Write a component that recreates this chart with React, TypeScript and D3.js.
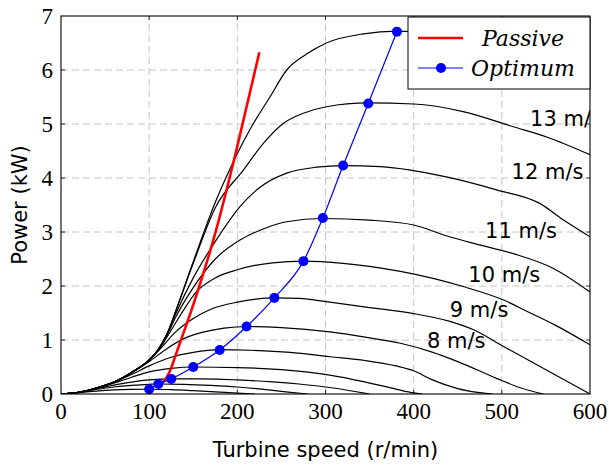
import React from 'react';
import * as d3 from 'd3';

// wind speed curves: [turbine speed r/min, power kW]
const curve3 = [[0, 0], [20, 0.025], [40, 0.055], [60, 0.075], [80, 0.085], [100, 0.088], [125, 0.08], [150, 0.062], [175, 0.04], [200, 0.015], [220, 0]];
const curve4 = [[0, 0], [20, 0.03], [40, 0.085], [60, 0.13], [80, 0.16], [100, 0.18], [110, 0.185], [140, 0.18], [170, 0.16], [200, 0.13], [230, 0.085], [255, 0.04], [280, 0]];
const curve5 = [[0, 0], [20, 0.03], [40, 0.1], [60, 0.165], [80, 0.22], [100, 0.26], [125, 0.28], [160, 0.28], [200, 0.26], [240, 0.225], [270, 0.185], [305, 0.12], [330, 0.055], [350, 0]];
const curve6 = [[0, 0], [20, 0.03], [40, 0.105], [60, 0.2], [80, 0.31], [100, 0.41], [125, 0.475], [150, 0.5], [200, 0.49], [250, 0.45], [305, 0.35], [343, 0.23], [380, 0.09], [400, 0.02], [410, 0]];
const curve7 = [[0, 0], [20, 0.03], [40, 0.11], [60, 0.22], [80, 0.36], [100, 0.52], [125, 0.68], [150, 0.77], [180, 0.82], [214, 0.81], [260, 0.77], [305, 0.69], [345, 0.62], [380, 0.52], [400, 0.43], [420, 0.27], [450, 0.1], [475, 0.025], [490, 0]];
const curve8 = [[0, 0], [20, 0.03], [40, 0.11], [60, 0.22], [80, 0.39], [100, 0.6], [120, 0.84], [140, 1.03], [160, 1.14], [185, 1.22], [211, 1.25], [250, 1.23], [305, 1.15], [350, 1.04], [385, 0.94], [420, 0.78], [450, 0.6], [494, 0.29], [520, 0.12], [547, 0]];
const curve9 = [[0, 0], [20, 0.03], [40, 0.11], [60, 0.22], [80, 0.4], [100, 0.62], [115, 0.88], [130, 1.15], [150, 1.4], [170, 1.57], [200, 1.7], [242, 1.78], [270, 1.77], [305, 1.7], [350, 1.6], [400, 1.49], [440, 1.35], [468, 1.19], [502, 0.88], [550, 0.45], [600, 0]];
const curve10 = [[0, 0], [20, 0.03], [40, 0.11], [60, 0.22], [80, 0.4], [100, 0.63], [110, 0.8], [120, 1.05], [135, 1.45], [154, 1.9], [175, 2.15], [200, 2.3], [240, 2.43], [275, 2.46], [320, 2.42], [385, 2.27], [456, 1.99], [502, 1.74], [530, 1.52], [560, 1.28], [600, 0.91]];
const curve11 = [[0, 0], [20, 0.03], [40, 0.11], [60, 0.22], [80, 0.4], [100, 0.63], [110, 0.81], [120, 1.08], [130, 1.42], [150, 1.97], [175, 2.5], [203, 2.85], [230, 3.06], [256, 3.19], [297, 3.25], [350, 3.22], [400, 3.13], [437, 2.93], [470, 2.78], [513, 2.6], [558, 2.33], [600, 1.89]];
const curve12 = [[0, 0], [20, 0.03], [40, 0.11], [60, 0.22], [80, 0.4], [100, 0.63], [110, 0.82], [120, 1.1], [130, 1.48], [150, 2.15], [176, 2.85], [203, 3.47], [225, 3.82], [256, 4.09], [290, 4.2], [320, 4.23], [362, 4.21], [437, 4.02], [494, 3.78], [543, 3.53], [570, 3.22], [600, 2.91]];
const curve13 = [[0, 0], [20, 0.03], [40, 0.11], [60, 0.22], [80, 0.4], [100, 0.63], [110, 0.82], [120, 1.1], [130, 1.53], [150, 2.42], [175, 3.45], [207, 4.15], [230, 4.65], [252, 5.01], [275, 5.2], [301, 5.32], [348, 5.39], [400, 5.37], [456, 5.23], [513, 4.95], [551, 4.76], [600, 4.43]];
const curve14 = [[0, 0], [20, 0.03], [40, 0.11], [60, 0.22], [80, 0.4], [100, 0.63], [110, 0.82], [120, 1.1], [130, 1.53], [150, 2.45], [175, 3.55], [192, 4.18], [214, 4.89], [237, 5.5], [256, 6.0], [279, 6.3], [301, 6.5], [343, 6.67], [381, 6.72], [420, 6.68], [480, 6.5], [540, 6.2], [600, 5.9]];

const windCurves = [curve3, curve4, curve5, curve6, curve7, curve8, curve9, curve10, curve11, curve12, curve13, curve14];

const passive = [[111, 0.15], [118, 0.26], [124, 0.44], [130, 0.72], [135, 0.95], [150, 1.65], [176, 3.04], [199, 4.52], [225, 6.33]];

const optimumSpeed = [100, 110.4, 125, 150, 180, 210.5, 242, 275, 297, 320, 348.5, 381];
const optimumPower = [0.087, 0.185, 0.28, 0.5, 0.815, 1.25, 1.78, 2.46, 3.26, 4.23, 5.38, 6.71];

// label text and where it starts (r/min, kW)
const speedLabels = ['8 m/s', '9 m/s', '10 m/s', '11 m/s', '12 m/s', '13 m/s'];
const labelSpeed = [415, 441, 462, 481, 511, 532];
const labelPower = [0.85, 1.43, 2.07, 2.89, 3.98, 4.96];

const xTicks = [0, 100, 200, 300, 400, 500, 600];
const yTicks = [0, 1, 2, 3, 4, 5, 6, 7];

const width = 609, height = 465;
const margin = { top: 16, right: 19, bottom: 71, left: 61 };

export default function App() {
  const x = d3.scaleLinear().domain([0, 600]).range([margin.left, width - margin.right]);
  const y = d3.scaleLinear().domain([0, 7]).range([height - margin.bottom, margin.top]);

  const line = d3.line<number[]>()
    .x(d => x(d[0]))
    .y(d => y(d[1]))
    .curve(d3.curveMonotoneX);

  const optimum = optimumSpeed.map((s, i) => [s, optimumPower[i]]);

  const x0 = x(0), x1 = x(600), y0 = y(0), y1 = y(7);
  const serif = '"Liberation Serif", "DejaVu Serif", serif';
  const sans = '"DejaVu Sans", sans-serif';
  const italic = '"DejaVu Serif", serif';

  // legend box
  const lg = { x: 408, y: 17, w: 182, h: 72 };

  return (
    <svg width={width} height={height} style={{ position: 'absolute', left: 0, top: 0, background: '#fff' }}>
      <defs>
        <clipPath id="plot">
          <rect x={x0} y={y1} width={x1 - x0} height={y0 - y1} />
        </clipPath>
      </defs>

      {/* grid */}
      <g stroke="#c4c4c4" strokeWidth={1} strokeDasharray="7,4">
        {xTicks.slice(1, -1).map(t => (
          <line key={'gx' + t} x1={x(t)} x2={x(t)} y1={y0} y2={y1} />
        ))}
        {yTicks.slice(1, -1).map(t => (
          <line key={'gy' + t} x1={x0} x2={x1} y1={y(t)} y2={y(t)} />
        ))}
      </g>

      <g clipPath="url(#plot)">
        {windCurves.map((c, i) => (
          <path key={'c' + i} d={line(c) || ''} fill="none" stroke="#000" strokeWidth={1.2} />
        ))}
        <path d={line(passive) || ''} fill="none" stroke="#ff0000" strokeWidth={2.6} />
        <path d={line(optimum) || ''} fill="none" stroke="#0000ff" strokeWidth={1.2} />
        {optimum.map((d, i) => (
          <circle key={'o' + i} cx={x(d[0])} cy={y(d[1])} r={5} fill="#0000ff" />
        ))}
        {speedLabels.map((s, i) => (
          <text key={s} x={x(labelSpeed[i])} y={y(labelPower[i])} fontFamily={sans} fontSize={21} fill="#000">{s}</text>
        ))}
      </g>

      {/* ticks */}
      <g stroke="#000" strokeWidth={0.8}>
        {xTicks.slice(1, -1).map(t => (
          <g key={'tx' + t}>
            <line x1={x(t)} x2={x(t)} y1={y0} y2={y0 - 4} />
            <line x1={x(t)} x2={x(t)} y1={y1} y2={y1 + 4} />
          </g>
        ))}
        {yTicks.slice(1, -1).map(t => (
          <g key={'ty' + t}>
            <line x1={x0} x2={x0 + 4} y1={y(t)} y2={y(t)} />
            <line x1={x1} x2={x1 - 4} y1={y(t)} y2={y(t)} />
          </g>
        ))}
      </g>

      <rect x={x0} y={y1} width={x1 - x0} height={y0 - y1} fill="none" stroke="#000" strokeWidth={1.1} />

      {/* tick labels */}
      {xTicks.map(t => (
        <text key={'lx' + t} x={x(t)} y={y0 + 25} textAnchor="middle" fontFamily={serif} fontSize={23} fill="#000">{t}</text>
      ))}
      {yTicks.map(t => (
        <text key={'ly' + t} x={x0 - 8} y={y(t)} dy="0.35em" textAnchor="end" fontFamily={serif} fontSize={23} fill="#000">{t}</text>
      ))}

      {/* axis titles */}
      <text x={(x0 + x1) / 2} y={457} textAnchor="middle" fontFamily={sans} fontSize={21} fill="#000">Turbine speed (r/min)</text>
      <text transform={`translate(27,${(y0 + y1) / 2}) rotate(-90)`} textAnchor="middle" fontFamily={sans} fontSize={21} fill="#000">Power (kW)</text>

      {/* legend */}
      <rect x={lg.x} y={lg.y} width={lg.w} height={lg.h} fill="#fff" stroke="#000" strokeWidth={1} />
      <line x1={lg.x + 10} x2={lg.x + 55} y1={lg.y + 21} y2={lg.y + 21} stroke="#ff0000" strokeWidth={2.6} />
      <text x={lg.x + 115} y={lg.y + 21} dy="0.35em" textAnchor="middle" fontFamily={italic} fontStyle="italic" fontSize={22} fill="#000">Passive</text>
      <line x1={lg.x + 10} x2={lg.x + 55} y1={lg.y + 51} y2={lg.y + 51} stroke="#0000ff" strokeWidth={1.2} />
      <circle cx={lg.x + 33} cy={lg.y + 51} r={5} fill="#0000ff" />
      <text x={lg.x + 115} y={lg.y + 51} dy="0.35em" textAnchor="middle" fontFamily={italic} fontStyle="italic" fontSize={22} fill="#000">Optimum</text>
    </svg>
  );
}
